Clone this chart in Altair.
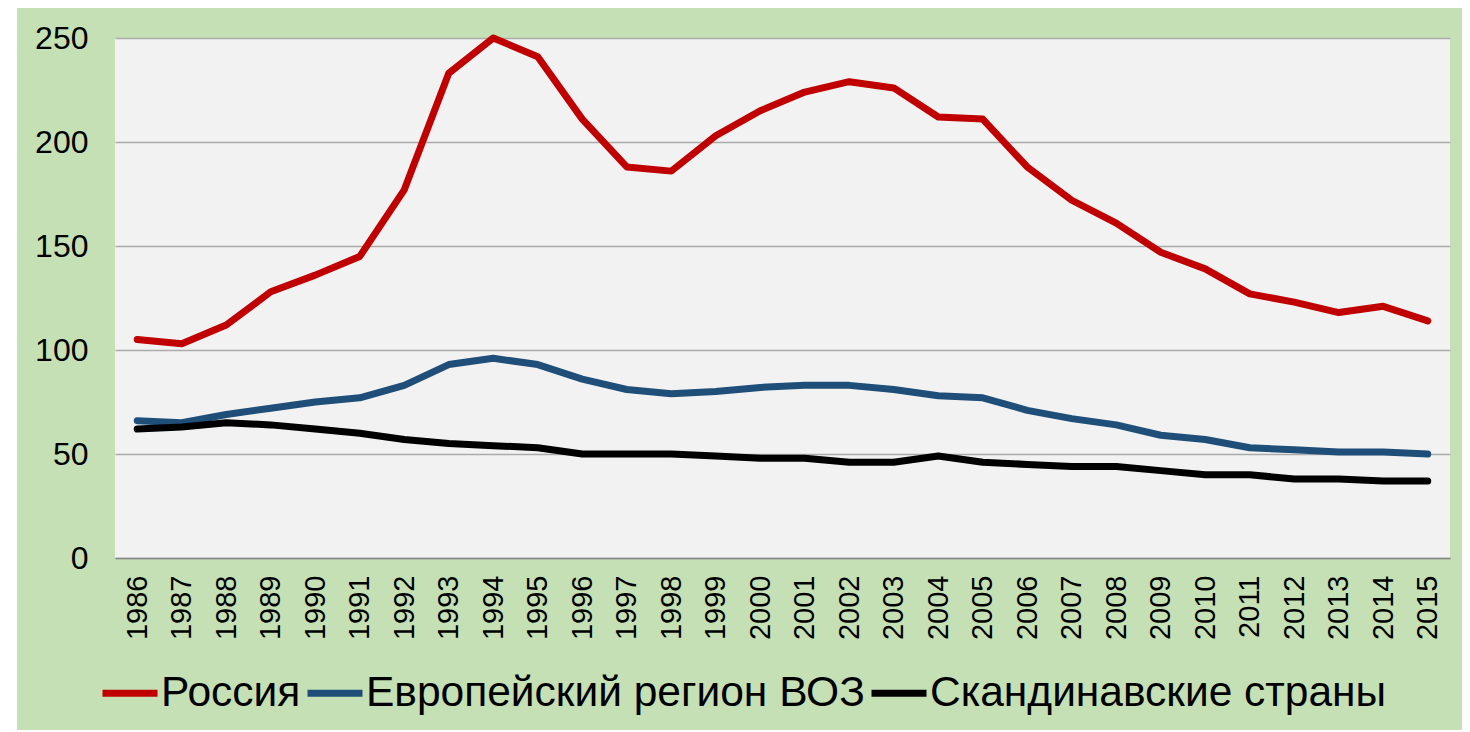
import altair as alt
import pandas as pd

years = list(range(1986, 2016))
russia = [105, 103, 112, 128, 136, 145, 177, 233, 250, 241, 211, 188, 186, 203, 215,
          224, 229, 226, 212, 211, 188, 172, 161, 147, 139, 127, 123, 118, 121, 114]
europe = [66, 65, 69, 72, 75, 77, 83, 93, 96, 93, 86, 81, 79, 80, 82,
          83, 83, 81, 78, 77, 71, 67, 64, 59, 57, 53, 52, 51, 51, 50]
scand = [62, 63, 65, 64, 62, 60, 57, 55, 54, 53, 50, 50, 50, 49, 48,
         48, 46, 46, 49, 46, 45, 44, 44, 42, 40, 40, 38, 38, 37, 37]
series = ["Россия", "Европейский регион ВОЗ", "Скандинавские страны"]
colors = ["#c00000", "#1f4e79", "#000000"]

rows = []
for name, vals in zip(series, [russia, europe, scand]):
    for y, v in zip(years, vals):
        rows.append({"year": str(y), "value": v, "series": name})
df = pd.DataFrame(rows)

font = "Liberation Sans"

lines = alt.Chart(df).mark_line(strokeWidth=7, strokeCap="round", strokeJoin="round").encode(
    x=alt.X("year:O", scale=alt.Scale(type="point", padding=0.5),
            axis=alt.Axis(title=None, labelAngle=270, labelFont=font, labelFontSize=29,
                          labelColor="#000000", ticks=False, labelPadding=17,
                          domain=True, domainColor="#868686", domainWidth=1.5, grid=False)),
    y=alt.Y("value:Q", scale=alt.Scale(domain=[0, 250], nice=False),
            axis=alt.Axis(title=None, values=[0, 50, 100, 150, 200, 250], labelFont=font,
                          labelFontSize=32, labelColor="#000000", ticks=False, labelPadding=27,
                          domain=False, grid=True, gridColor="#ababab", gridWidth=1.5)),
    color=alt.Color("series:N", sort=series,
                    scale=alt.Scale(domain=series, range=colors),
                    legend=alt.Legend(title=None, orient="none", direction="horizontal",
                                      legendX=-16, legendY=624, labelLimit=0,
                                      symbolType="stroke", symbolSize=3025, symbolStrokeWidth=7,
                                      labelFont=font, labelFontSize=42.5, labelColor="#000000",
                                      labelOffset=0, columnPadding=-8, symbolOpacity=1)),
)

left_strip = alt.Chart(pd.DataFrame({"k": [0]})).mark_rect(fill="#ffffff", clip=False).encode(
    x=alt.value(-107), x2=alt.value(-98), y=alt.value(-30), y2=alt.value(700)
)

chart = alt.layer(left_strip, lines).properties(
    width=1335, height=520,
    background="#c5e0b4",
    padding={"left": 107, "top": 30, "right": 12, "bottom": 172},
    autosize=alt.AutoSizeParams(type="none"),
).configure_view(fill="#f2f2f2", stroke=None)

chart.save("out.html", embed_options={"renderer": "svg", "actions": False})
